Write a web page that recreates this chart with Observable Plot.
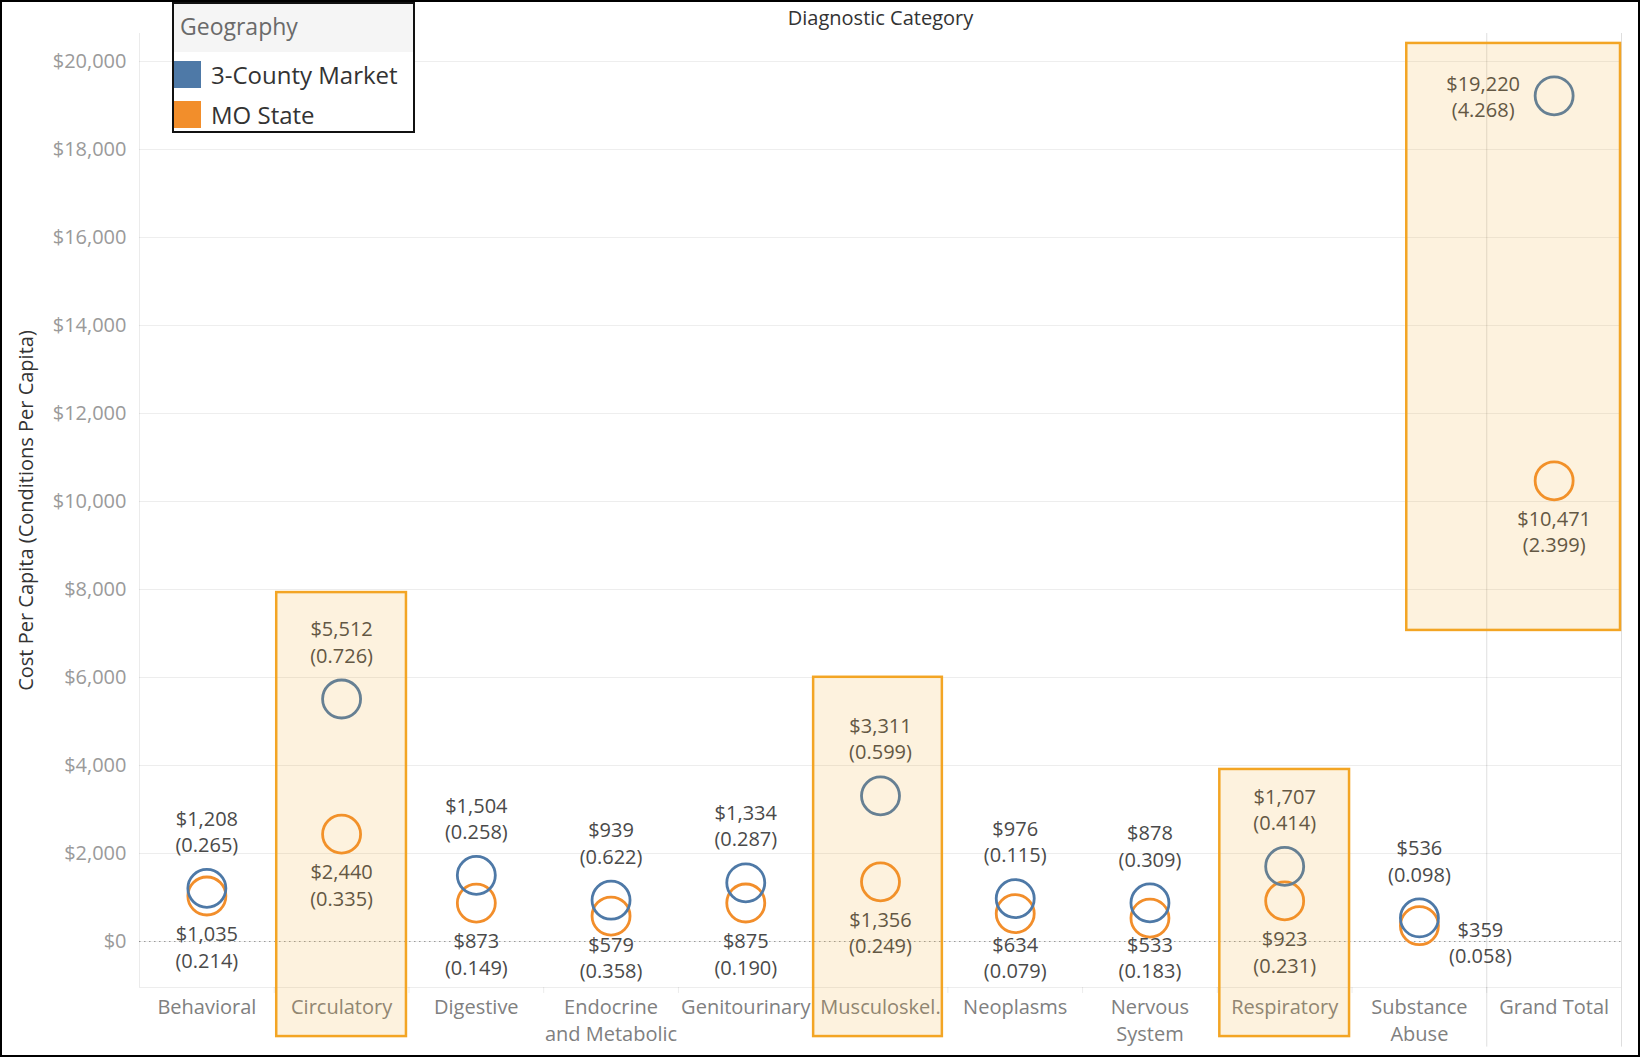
<!DOCTYPE html>
<html>
<head>
<meta charset="utf-8">
<script src="https://cdn.jsdelivr.net/npm/d3@7"></script>
<script src="https://cdn.jsdelivr.net/npm/@observablehq/plot@0.6"></script>
<style>
  html, body { margin: 0; padding: 0; background: #fff; }
  #wrap { position: relative; width: 1640px; height: 1057px; overflow: hidden; font-family: "Open Sans", sans-serif; }
  #frame { position: absolute; left: 0; top: 0; width: 1640px; height: 1057px; box-sizing: border-box; border: 2px solid #000; pointer-events: none; }
  #legend { position: absolute; left: 172px; top: 2px; width: 243px; height: 131px; box-sizing: border-box; border: 2px solid #111; background: #fff; }
  #legend .hdr { position: absolute; left: 0; top: 0; right: 0; height: 48px; background: #f5f5f5; color: #6a6a6a; font-size: 23px; line-height: 44px; padding-left: 6px; }
  #legend .sw { position: absolute; left: 0; width: 27px; height: 27px; }
  #legend .lb { position: absolute; left: 37px; font-size: 24px; color: #333; line-height: 27px; }
</style>
</head>
<body>
<div id="wrap">
  <div id="chart"></div>
  <div id="legend"></div>
  <div id="frame"></div>
</div>
<script>
// ---- data ----
const categories = ["Behavioral", "Circulatory", "Digestive", "Endocrine and Metabolic", "Genitourinary",
  "Musculoskel.", "Neoplasms", "Nervous System", "Respiratory", "Substance Abuse", "Grand Total"];
const tickLabels = ["Behavioral", "Circulatory", "Digestive", "Endocrine\nand Metabolic", "Genitourinary",
  "Musculoskel.", "Neoplasms", "Nervous\nSystem", "Respiratory", "Substance\nAbuse", "Grand Total"];
const geographies = ["3-County Market", "MO State"];
const countyCost = [1208, 5512, 1504, 939, 1334, 3311, 976, 878, 1707, 536, 19220];
const countyConditions = [0.265, 0.726, 0.258, 0.622, 0.287, 0.599, 0.115, 0.309, 0.414, 0.098, 4.268];
const stateCost = [1035, 2440, 873, 579, 875, 1356, 634, 533, 923, 359, 10471];
const stateConditions = [0.214, 0.335, 0.149, 0.358, 0.190, 0.249, 0.079, 0.183, 0.231, 0.058, 2.399];
const yTicks = [0, 2000, 4000, 6000, 8000, 10000, 12000, 14000, 16000, 18000, 20000];
const highlighted = ["Circulatory", "Musculoskel.", "Respiratory", "Grand Total"];

// ---- layout / style ----
const W = 1640, H = 1057, ML = 139, MR = 19, MT = 33, MB = 70;
const bw = (W - ML - MR) / categories.length;
const yDomain = [-1045, 20636];
const colors = {"3-County Market": "#4e79a7", "MO State": "#f28e2b"};
const boxColor = "#f3a524";
const fmt = d3.format(",");
const labelText = d => `$${fmt(d.cost)}\n(${d.cond.toFixed(3)})`;
const yScale = Plot.scale({y: {domain: yDomain, range: [H - MB, MT]}});
const belowOffset = 50, aboveOffset = -58;     // px from circle centre to label block centre
const labelFloor = H - MB - 31;                // labels stay inside the pane (Tableau behaviour)

// ---- build table ----
const rows = [];
categories.forEach((c, i) => {
  rows.push({category: c, geo: geographies[0], cost: countyCost[i], cond: countyConditions[i]});
  rows.push({category: c, geo: geographies[1], cost: stateCost[i], cond: stateConditions[i]});
});
const sideOverride = {"Substance Abuse|MO State": "right", "Grand Total|3-County Market": "left"};
rows.forEach(r => {
  const other = rows.find(o => o.category === r.category && o.geo !== r.geo);
  r.side = sideOverride[r.category + "|" + r.geo] || (r.cost >= other.cost ? "above" : "below");
  const py = yScale.apply(r.cost);
  if (r.side === "below") r.labelY = yScale.invert(Math.min(py + belowOffset, labelFloor));
  else if (r.side === "above") r.labelY = yScale.invert(py + aboveOffset);
  else r.labelY = r.cost;
});

// annotation boxes (data units for extent; insets are styling)
const boxes = [
  {category: "Circulatory", top: 7930, bottom: -2160, insetLeft: 2.5, insetRight: 2.5},
  {category: "Musculoskel.", top: 6005, bottom: -2160, insetLeft: 0.5, insetRight: 5.5},
  {category: "Respiratory", top: 3910, bottom: -2160, insetLeft: 2.5, insetRight: 2.5},
  {category: "Grand Total", top: 20410, bottom: 7070, insetLeft: -80, insetRight: 1},
];

const textBase = {x: "category", y: "labelY", text: labelText, fontSize: 20, lineHeight: 1.32, lineAnchor: "middle", fill: "#4a4a4a"};

const boxMarks = boxes.filter(b => highlighted.includes(b.category)).map(b =>
  Plot.barY([b], {x: "category", y1: "bottom", y2: "top", fill: boxColor, fillOpacity: 0.15,
    stroke: boxColor, strokeWidth: 2.5, insetLeft: b.insetLeft, insetRight: b.insetRight}));

const chart = Plot.plot({
  width: W, height: H,
  marginLeft: ML, marginRight: MR, marginTop: MT, marginBottom: MB,
  style: {fontFamily: "Open Sans, sans-serif", background: "transparent", overflow: "visible"},
  x: {type: "band", domain: categories, padding: 0, round: false, axis: null},
  y: {domain: yDomain, axis: null},
  marks: [
    Plot.gridY(yTicks, {stroke: "#000", strokeOpacity: 0.07}),
    Plot.ruleY([0], {stroke: "#9a9a9a", strokeDasharray: "1.5,3.5", strokeWidth: 1.2}),
    Plot.ruleY([yDomain[0]], {stroke: "#000", strokeOpacity: 0.07}),
    Plot.ruleX([categories[0]], {dx: -bw / 2, stroke: "#000", strokeOpacity: 0.08}),
    Plot.ruleX(categories.slice(1), {dx: -bw / 2, y1: yDomain[0], y2: -1180, stroke: "#000", strokeOpacity: 0.08}),
    Plot.ruleX(["Grand Total"], {dx: -bw / 2, y1: yDomain[1], y2: -2400, stroke: "#000", strokeOpacity: 0.13}),
    Plot.ruleX(["Grand Total"], {dx: bw / 2, y1: yDomain[1], y2: -2400, stroke: "#000", strokeOpacity: 0.13}),
    Plot.axisY(yTicks, {anchor: "left", tickSize: 0, tickPadding: 13, fontSize: 20, fill: "#9a9a9a",
      tickFormat: d => "$" + fmt(d), label: null}),
    Plot.axisX({anchor: "bottom", tickSize: 0, tickPadding: 7, fontSize: 20, fill: "#808080", lineHeight: 1.35,
      tickFormat: d => tickLabels[categories.indexOf(d)], label: null}),
    Plot.dot(rows.filter(r => r.geo === "MO State"), {x: "category", y: "cost", r: 19, fill: "none",
      stroke: colors["MO State"], strokeWidth: 2.8}),
    Plot.dot(rows.filter(r => r.geo === "3-County Market"), {x: "category", y: "cost", r: 19, fill: "none",
      stroke: colors["3-County Market"], strokeWidth: 2.8}),
    Plot.text(rows.filter(r => r.side === "above" || r.side === "below"), textBase),
    Plot.text(rows.filter(r => r.side === "right"), {...textBase, dx: 61, dy: 16}),
    Plot.text(rows.filter(r => r.side === "left"), {...textBase, dx: -71, dy: 0}),
    ...boxMarks,
    Plot.text(["Diagnostic Category"], {frameAnchor: "top", dy: -15, lineAnchor: "middle", fontSize: 20, fill: "#333"}),
    Plot.text(["Cost Per Capita (Conditions Per Capita)"], {frameAnchor: "left", dx: -113, rotate: -90,
      textAnchor: "middle", lineAnchor: "middle", fontSize: 20, fill: "#333"})
  ]
});
document.getElementById("chart").appendChild(chart);

// ---- legend ----
const legend = document.getElementById("legend");
const hdr = document.createElement("div");
hdr.className = "hdr"; hdr.textContent = "Geography";
legend.appendChild(hdr);
geographies.forEach((g, i) => {
  const sw = document.createElement("div");
  sw.className = "sw"; sw.style.top = (57 + i * 40) + "px"; sw.style.background = colors[g];
  const lb = document.createElement("div");
  lb.className = "lb"; lb.style.top = (57 + i * 40) + "px"; lb.textContent = g;
  legend.appendChild(sw); legend.appendChild(lb);
});
</script>
</body>
</html>
